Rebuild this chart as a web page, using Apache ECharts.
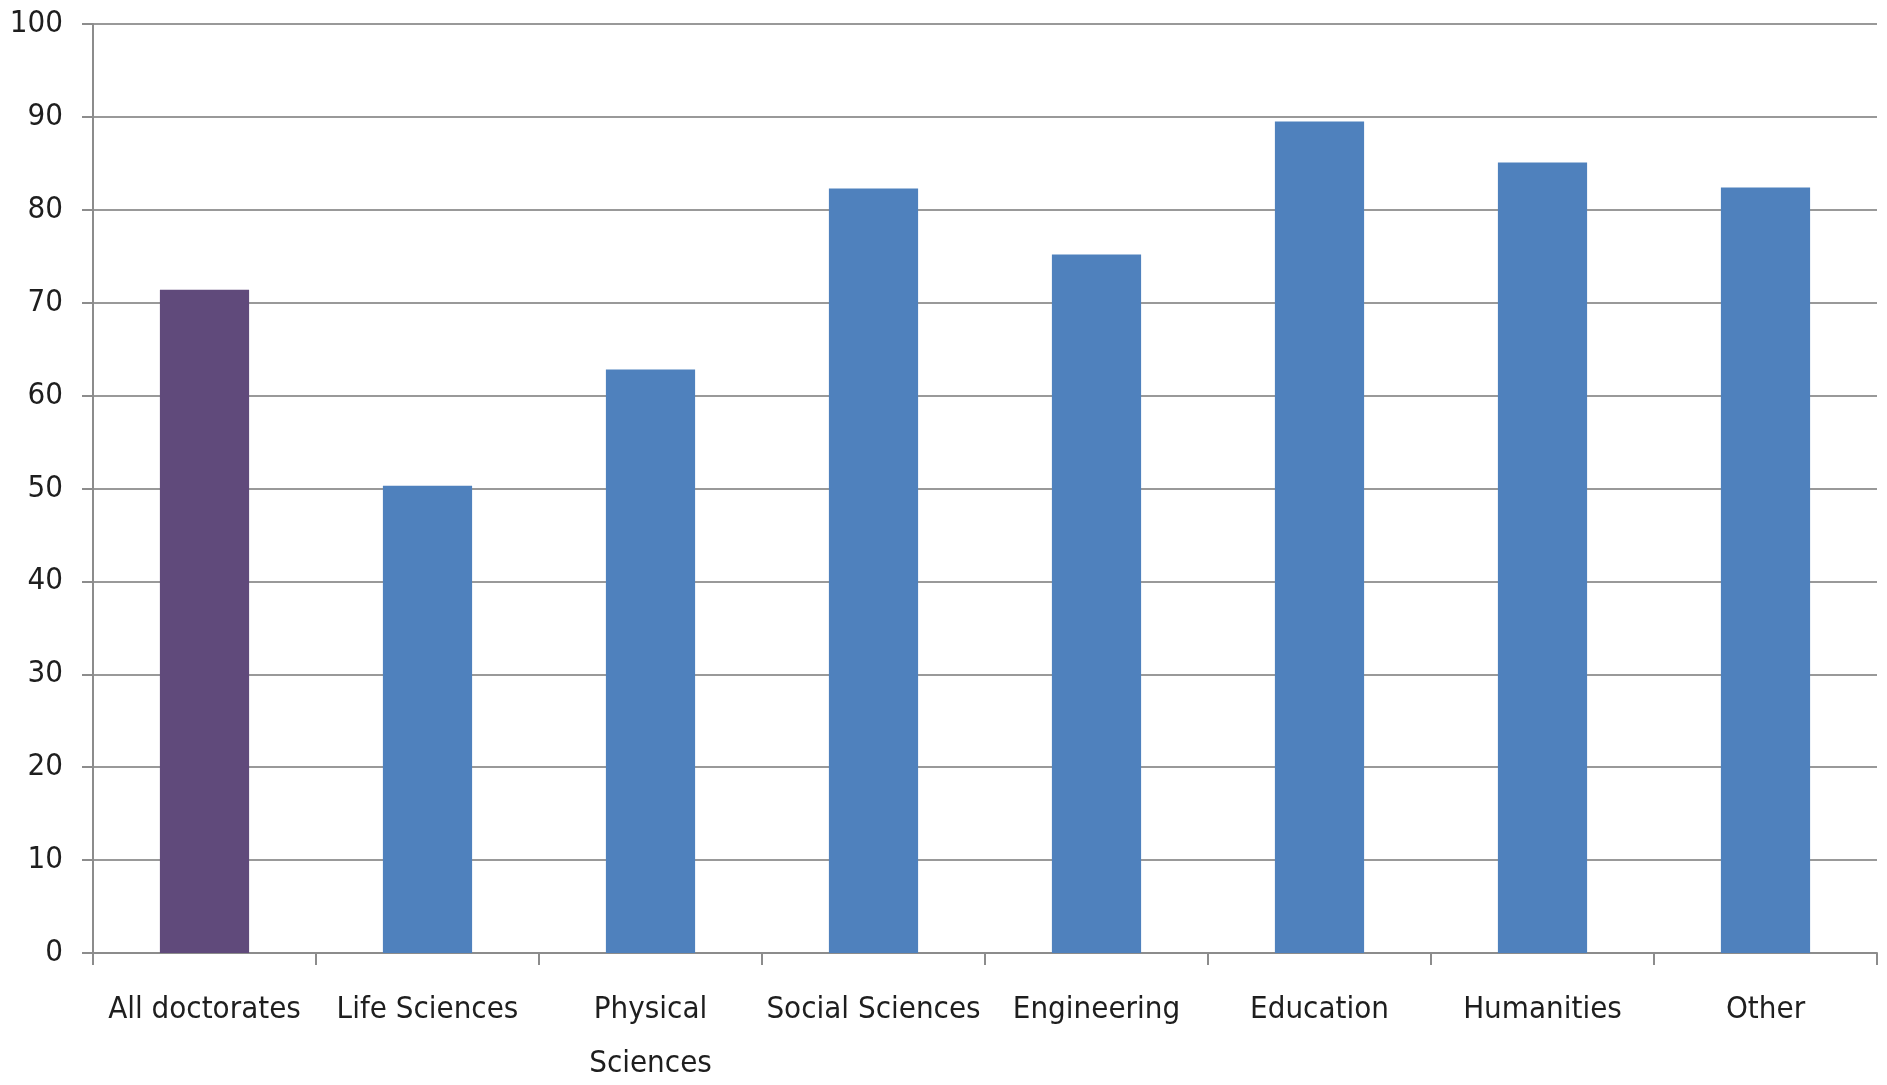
<!DOCTYPE html>
<html>
<head>
<meta charset="utf-8">
<script src="https://cdn.jsdelivr.net/npm/echarts@6/dist/echarts.min.js"></script>
<style>
    html, body { margin: 0; padding: 0; background: #fff; }
    #chart { width: 1887px; height: 1085px; }
</style>
</head>
<body>
<div id="chart"></div>
<script>
    // data
    var categories = ['All doctorates', 'Life Sciences', 'Physical\nSciences', 'Social Sciences',
        'Engineering', 'Education', 'Humanities', 'Other'];
    var values = [71.4, 50.3, 62.8, 82.3, 75.2, 89.5, 85.1, 82.4];
    var yTicks = [0, 10, 20, 30, 40, 50, 60, 70, 80, 90, 100];

    var chart = echarts.init(document.getElementById('chart'));
    var fontName = '"DejaVu Sans Condensed", "Liberation Sans Narrow", sans-serif';

    var option = {
        animation: false,
        grid: {left: 93, right: 10, top: 24, bottom: 132, outerBoundsMode: 'none'},
        xAxis: {
            type: 'category',
            data: categories,
            axisLine: {lineStyle: {color: '#8c8c8c', width: 2}},
            axisTick: {show: true, length: 12, lineStyle: {color: '#8c8c8c', width: 2}},
            axisLabel: {
                color: '#1e1e1e',
                fontFamily: fontName,
                fontSize: 31,
                lineHeight: 54,
                margin: 30,
                interval: 0
            }
        },
        yAxis: {
            type: 'value',
            min: yTicks[0],
            max: yTicks[yTicks.length - 1],
            interval: 10,
            axisLine: {show: true, lineStyle: {color: '#8c8c8c', width: 2}},
            axisTick: {show: true, length: 11, lineStyle: {color: '#8c8c8c', width: 2}},
            splitLine: {lineStyle: {color: '#999999', width: 2}},
            axisLabel: {
                color: '#1e1e1e',
                fontFamily: fontName,
                fontSize: 31,
                margin: 30
            }
        },
        series: [{
            type: 'bar',
            data: values,
            barWidth: '40%',
            itemStyle: {
                color: function (p) {
                    return p.dataIndex === 0 ? '#604a7b' : '#4f81bd';
                }
            }
        }]
    };

    chart.setOption(option);
</script>
</body>
</html>
